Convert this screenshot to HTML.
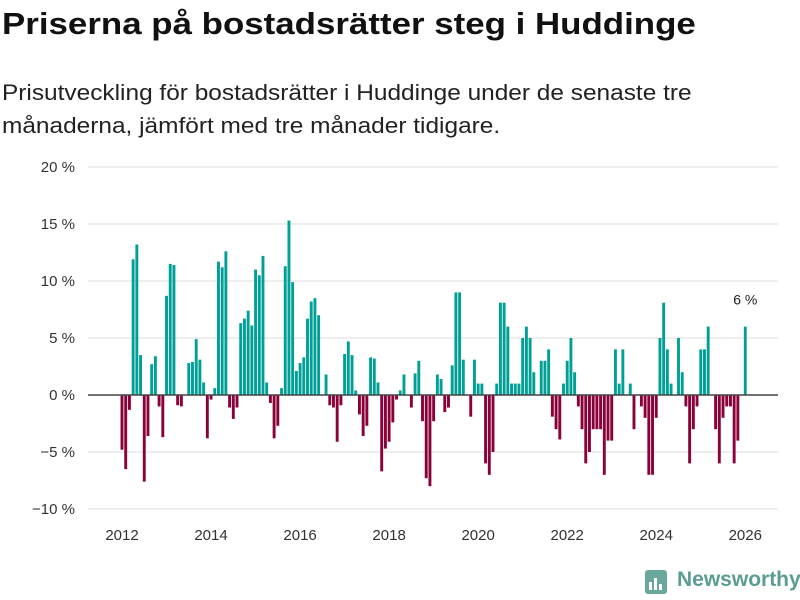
<!DOCTYPE html>
<html><head><meta charset="utf-8">
<style>
body{margin:0;background:#fff;font-family:"Liberation Sans",sans-serif;}
#wrap{position:relative;width:800px;height:600px;overflow:hidden;}
h1{position:absolute;left:2px;top:6px;margin:0;font-size:31px;font-weight:bold;color:#111;white-space:nowrap;transform:scaleX(1.125);transform-origin:0 0;}
p.sub{position:absolute;left:2px;top:76px;margin:0;font-size:22px;line-height:33px;color:#222;width:640px;transform:scaleX(1.11);transform-origin:0 0;}
</style></head><body>
<div id="wrap">
<h1>Priserna på bostadsrätter steg i Huddinge</h1>
<p class="sub">Prisutveckling för bostadsrätter i Huddinge under de senaste tre månaderna, jämfört med tre månader tidigare.</p>
<svg id="chart" width="800" height="600" style="position:absolute;left:0;top:0"></svg>
<div style="position:absolute;left:645px;top:568px;width:150px;height:30px;">
<svg width="24" height="26" style="position:absolute;left:0;top:2px"><rect x="0" y="0" width="22" height="24" rx="3" fill="#6aa79c"/><rect x="4" y="12" width="3" height="8" fill="#fff"/><rect x="9" y="8" width="3" height="12" fill="#fff"/><rect x="14" y="14" width="3" height="6" fill="#fff"/></svg>
<span style="position:absolute;left:32px;top:0;font-size:21px;font-weight:bold;color:#5a9e92;">Newsworthy</span>
</div>
</div>
<script>
const values=[-4.8,-6.5,-1.3,11.9,13.2,3.5,-7.6,-3.6,2.7,3.4,-1.0,-3.7,8.7,11.5,11.4,-0.9,-1.0,0,2.8,2.9,4.9,3.1,1.1,-3.8,-0.4,0.6,11.7,11.2,12.6,-1.1,-2.1,-1.1,6.3,6.7,7.4,6.1,11.0,10.5,12.2,1.1,-0.7,-3.8,-2.7,0.6,11.3,15.3,9.9,2.1,2.8,3.3,6.7,8.2,8.5,7.0,0,1.8,-0.9,-1.1,-4.1,-0.9,3.6,4.7,3.5,0.4,-1.7,-3.6,-2.7,3.3,3.2,1.1,-6.7,-4.7,-4.1,-2.4,-0.4,0.4,1.8,0,-1.1,1.9,3.0,-2.3,-7.3,-8.0,-2.3,1.8,1.4,-1.5,-1.1,2.6,9.0,9.0,3.1,0,-1.9,3.1,1.0,1.0,-6.0,-7.0,-5.0,1.0,8.1,8.1,6.0,1.0,1.0,1.0,5.0,6.0,5.0,2.0,0,3.0,3.0,4.0,-1.9,-3.0,-3.9,1.0,3.0,5.0,2.0,-1.0,-3.0,-6.0,-5.0,-3.0,-3.0,-3.0,-7.0,-4.0,-4.0,4.0,1.0,4.0,0,1.0,-3.0,0,-1.0,-2.0,-7.0,-7.0,-2.0,5.0,8.1,4.0,1.0,0,5.0,2.0,-1.0,-6.0,-3.0,-1.0,4.0,4.0,6.0,0,-3.0,-6.0,-2.0,-1.0,-1.0,-6.0,-4.0,0,6.0];
const startYear=2012;
const yTicks=[-10,-5,0,5,10,15,20];
const yTickLabels=["−10 %","−5 %","0 %","5 %","10 %","15 %","20 %"];
const xTicks=[2012,2014,2016,2018,2020,2022,2024,2026];
const lastLabel="6 %";

const NS="http://www.w3.org/2000/svg";
const svg=document.getElementById('chart');
const y=v=>395-v*11.4;
const xm=i=>122+i*3.71;
const xy=yr=>xm((yr-startYear)*12);
function el(t,a){const e=document.createElementNS(NS,t);for(const k in a)e.setAttribute(k,a[k]);svg.appendChild(e);return e;}

yTicks.forEach((t,i)=>{
  if(t!==0){const g=el('line',{x1:88,x2:778,y1:y(t),y2:y(t),stroke:'#dedede','stroke-width':1});
  
  }
  const tx=el('text',{x:75,y:y(t)+5,'text-anchor':'end','font-size':15,fill:'#333','font-family':'Liberation Sans, sans-serif'});
  tx.textContent=yTickLabels[i];
  
  
});
values.forEach((v,i)=>{
  if(v===0)return;
  const r=el('rect',{x:xm(i)-1.45,width:2.9,y:Math.min(y(v),y(0)),height:Math.abs(y(v)-y(0)),fill:v>0?'#00a096':'#8a0038'});
  
  
});
const z=el('line',{x1:88,x2:778,y1:y(0),y2:y(0),stroke:'#444','stroke-width':1.5});


xTicks.forEach(t=>{
  const tx=el('text',{x:xy(t),y:540,'text-anchor':'middle','font-size':15,fill:'#333','font-family':'Liberation Sans, sans-serif'});
  tx.textContent=t;
  
  
});
const li=values.length-1;
const lb=el('text',{x:xm(li),y:y(values[li])-22,'text-anchor':'middle','font-size':14,fill:'#222','font-family':'Liberation Sans, sans-serif'});
lb.textContent=lastLabel;


</script>
</body></html>
